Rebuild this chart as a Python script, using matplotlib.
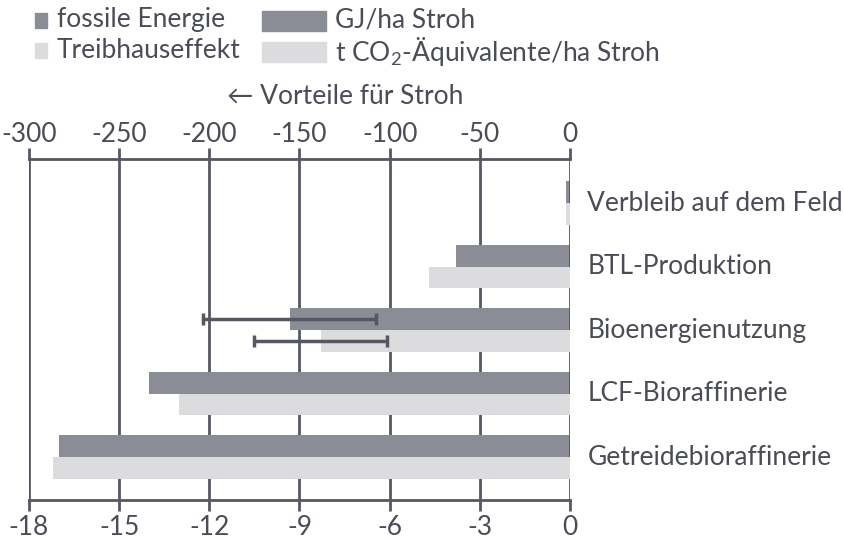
import matplotlib.pyplot as plt
from matplotlib.patches import Rectangle

# Werte je Nutzungspfad (GJ/ha fossile Energie, t CO2-Äq./ha Treibhauseffekt)
kategorien = ["Verbleib auf dem Feld", "BTL-Produktion", "Bioenergienutzung",
              "LCF-Bioraffinerie", "Getreidebioraffinerie"]
fossile_energie = [-2, -63, -155.5, -233.5, -283.5]
treibhauseffekt = [-0.13, -4.7, -8.3, -13.0, -17.2]
fehler_energie = [0, 0, 48, 0, 0]
fehler_thg = [0, 0, 2.2, 0, 0]
ticks_gj = [-300, -250, -200, -150, -100, -50, 0]
ticks_t = [-18, -15, -12, -9, -6, -3, 0]

DUNKEL = "#8b8d96"
HELL = "#dcdcde"
LINIE = "#555862"
TEXT = "#4a4d57"
FONT = ["Lato", "DejaVu Sans"]
FS = 19

plt.rcParams["font.family"] = FONT
plt.rcParams["text.color"] = TEXT
plt.rcParams["mathtext.fontset"] = "custom"
plt.rcParams["mathtext.rm"] = "Lato"

fig = plt.figure(figsize=(8.45, 5.4), dpi=100)
ax = fig.add_axes([29 / 845, 1 - 500 / 540, 541 / 845, 341 / 540])
ax2 = ax.twiny()

h = 0.34
y = list(range(len(kategorien)))
y_dunkel = [v - h / 2 for v in y]
y_hell = [v + h / 2 for v in y]

ax.barh(y_dunkel, fossile_energie, height=h, color=DUNKEL, zorder=2)
ax2.barh(y_hell, treibhauseffekt, height=h, color=HELL, zorder=2)

# Fehlerbalken nur dort, wo es eine Spannweite gibt
for i in range(len(kategorien)):
    if fehler_energie[i]:
        ax.errorbar(fossile_energie[i], y_dunkel[i], xerr=fehler_energie[i],
                    fmt="none", ecolor=LINIE, elinewidth=2.5, capsize=4,
                    capthick=2.5, zorder=4)
    if fehler_thg[i]:
        ax2.errorbar(treibhauseffekt[i], y_hell[i], xerr=fehler_thg[i],
                     fmt="none", ecolor=LINIE, elinewidth=2.5, capsize=4,
                     capthick=2.5, zorder=4)

ax.set_xlim(-300, 0)
ax2.set_xlim(-18, 0)
ax.set_ylim(len(kategorien) - 1 + 0.677, -0.693)

for g in ticks_gj:
    ax.axvline(g, color=LINIE, lw=2, zorder=1 if g != 0 else 3)

# GJ-Achse oben, t-Achse unten
ax.xaxis.tick_top()
ax.set_xticks(ticks_gj)
ax.set_xticklabels([str(t) for t in ticks_gj])
ax2.xaxis.tick_bottom()
ax2.set_xticks(ticks_t)
ax2.set_xticklabels([str(t) for t in ticks_t])
for a, pad in ((ax, 1), (ax2, 3)):
    a.tick_params(axis="x", direction="out", length=8, width=2, color=LINIE,
                  labelsize=FS, labelcolor=TEXT, pad=pad)
    for s in a.spines.values():
        s.set_visible(False)
ax.spines["top"].set_visible(True)
ax.spines["top"].set_color(LINIE)
ax.spines["top"].set_linewidth(2)
ax2.spines["bottom"].set_visible(True)
ax2.spines["bottom"].set_color(LINIE)
ax2.spines["bottom"].set_linewidth(2)
ax.set_yticks([])
ax2.set_yticks([])

for i, name in enumerate(kategorien):
    ax.text(1.032, i, name, transform=ax.get_yaxis_transform(),
            va="center", ha="left", fontsize=FS, color=TEXT)

fig.text(345 / 845, 1 - 97 / 540, "\u2190 Vorteile für Stroh", ha="center",
         va="center", fontsize=FS, color=TEXT)

# Legende
def px(x, yy):
    return x / 845, 1 - yy / 540

fig.patches.append(Rectangle(px(35, 28), 12 / 845, 15 / 540, color=DUNKEL,
                             transform=fig.transFigure))
fig.patches.append(Rectangle(px(35, 58), 12 / 845, 15 / 540, color=HELL,
                             transform=fig.transFigure))
fig.patches.append(Rectangle(px(262, 31), 64 / 845, 20 / 540, color=DUNKEL,
                             transform=fig.transFigure))
fig.patches.append(Rectangle(px(262, 62), 64 / 845, 20 / 540, color=HELL,
                             transform=fig.transFigure))
fig.text(*px(57, 20), "fossile Energie", va="center", fontsize=FS)
fig.text(*px(57, 51), "Treibhauseffekt", va="center", fontsize=FS)
fig.text(*px(335, 20), "GJ/ha Stroh", va="center", fontsize=FS)
fig.text(*px(335, 51), "t CO$_2$-Äquivalente/ha Stroh", va="center",
         fontsize=FS)

fig.savefig("out.png", dpi=100)
